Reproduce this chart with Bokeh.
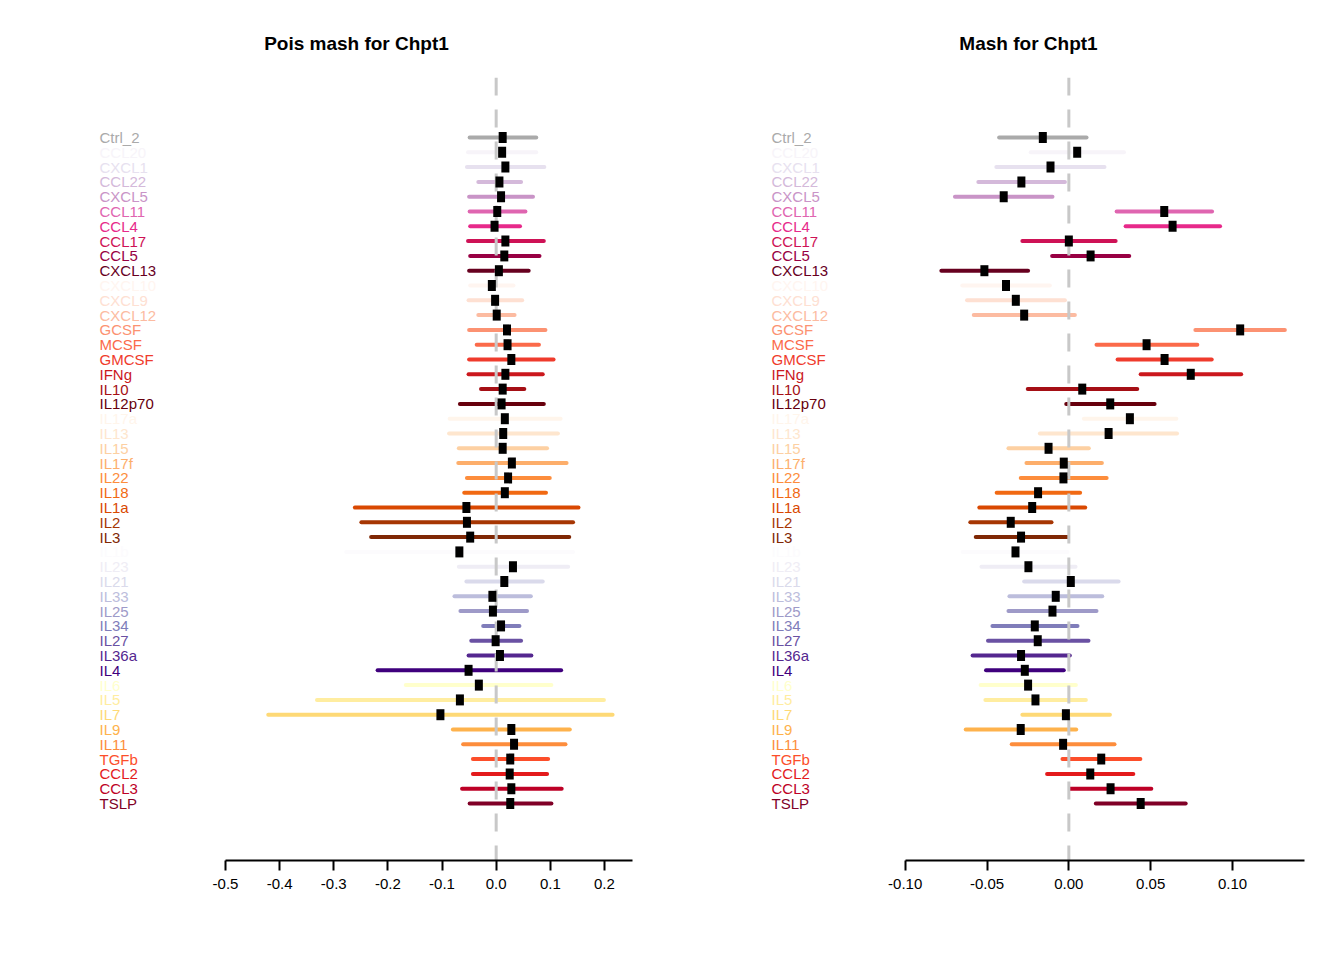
from bokeh.plotting import figure
from bokeh.models import Range1d, LinearAxis, FixedTicker, PrintfTickFormatter, ColumnDataSource
from bokeh.layouts import row
from bokeh.embed import file_html
from bokeh.resources import INLINE
from bokeh.core.properties import value

labels = ["Ctrl_2", "CCL20", "CXCL1", "CCL22", "CXCL5", "CCL11", "CCL4", "CCL17", "CCL5", "CXCL13",
          "CXCL10", "CXCL9", "CXCL12", "GCSF", "MCSF", "GMCSF", "IFNg", "IL10", "IL12p70",
          "IL17a", "IL13", "IL15", "IL17f", "IL22", "IL18", "IL1a", "IL2", "IL3",
          "IL1b", "IL23", "IL21", "IL33", "IL25", "IL34", "IL27", "IL36a", "IL4",
          "IL6", "IL5", "IL7", "IL9", "IL11", "TGFb", "CCL2", "CCL3", "TSLP"]

# Pois mash for Chpt1
pois_est = [0.012, 0.011, 0.017, 0.006, 0.009, 0.002, -0.003, 0.017, 0.015, 0.005,
            -0.008, -0.002, 0.001, 0.020, 0.021, 0.028, 0.017, 0.012, 0.010,
            0.016, 0.013, 0.012, 0.029, 0.022, 0.016, -0.055, -0.054, -0.048,
            -0.068, 0.031, 0.015, -0.007, -0.006, 0.009, -0.001, 0.007, -0.051,
            -0.032, -0.067, -0.103, 0.028, 0.033, 0.026, 0.025, 0.028, 0.026]
pois_lo = [-0.049, -0.052, -0.054, -0.033, -0.050, -0.049, -0.048, -0.052, -0.048, -0.050,
           -0.048, -0.051, -0.033, -0.050, -0.036, -0.050, -0.051, -0.028, -0.067,
           -0.086, -0.087, -0.069, -0.070, -0.054, -0.059, -0.261, -0.249, -0.231,
           -0.277, -0.069, -0.055, -0.077, -0.066, -0.024, -0.046, -0.051, -0.219,
           -0.167, -0.331, -0.421, -0.080, -0.061, -0.043, -0.043, -0.063, -0.049]
pois_hi = [0.074, 0.074, 0.089, 0.046, 0.068, 0.054, 0.044, 0.088, 0.080, 0.060,
           0.032, 0.048, 0.034, 0.091, 0.079, 0.106, 0.086, 0.052, 0.088,
           0.119, 0.114, 0.094, 0.130, 0.099, 0.092, 0.152, 0.142, 0.135,
           0.142, 0.133, 0.086, 0.064, 0.057, 0.043, 0.046, 0.065, 0.120,
           0.102, 0.199, 0.215, 0.136, 0.128, 0.096, 0.094, 0.121, 0.102]

# Mash for Chpt1
mash_est = [-0.0159, 0.0051, -0.0112, -0.0290, -0.0398, 0.0583, 0.0634, 0.0000, 0.0133, -0.0516,
            -0.0384, -0.0324, -0.0273, 0.1047, 0.0475, 0.0585, 0.0745, 0.0082, 0.0253,
            0.0373, 0.0243, -0.0124, -0.0031, -0.0033, -0.0188, -0.0224, -0.0355, -0.0292,
            -0.0326, -0.0247, 0.0012, -0.0080, -0.0100, -0.0208, -0.0190, -0.0292, -0.0269,
            -0.0249, -0.0204, -0.0018, -0.0294, -0.0035, 0.0198, 0.0131, 0.0255, 0.0439]
mash_lo = [-0.0426, -0.0233, -0.0443, -0.0553, -0.0696, 0.0292, 0.0347, -0.0284, -0.0102, -0.0779,
           -0.0651, -0.0622, -0.0581, 0.0773, 0.0169, 0.0298, 0.0439, -0.0251, -0.0016,
           0.0092, -0.0177, -0.0369, -0.0259, -0.0294, -0.0441, -0.0547, -0.0602, -0.0569,
           -0.0649, -0.0534, -0.0273, -0.0363, -0.0369, -0.0467, -0.0494, -0.0588, -0.0506,
           -0.0539, -0.0510, -0.0284, -0.0630, -0.0349, -0.0039, -0.0133, 0.0008, 0.0165]
mash_hi = [0.0108, 0.0337, 0.0218, -0.0024, -0.0100, 0.0875, 0.0924, 0.0286, 0.0369, -0.0249,
           -0.0116, -0.0024, 0.0037, 0.1320, 0.0785, 0.0873, 0.1053, 0.0418, 0.0524,
           0.0657, 0.0661, 0.0122, 0.0202, 0.0231, 0.0069, 0.0100, -0.0106, -0.0008,
           -0.0008, 0.0041, 0.0304, 0.0204, 0.0169, 0.0053, 0.0120, 0.0006, -0.0031,
           0.0043, 0.0104, 0.0251, 0.0045, 0.0279, 0.0437, 0.0394, 0.0504, 0.0714]

pois_ticks = [-0.5, -0.4, -0.3, -0.2, -0.1, 0.0, 0.1, 0.2]
mash_ticks = [-0.10, -0.05, 0.00, 0.05, 0.10]

# palettes per group
ctrl = ["#aaaaaa"]
purd = ["#f7f4f9", "#e7e1ef", "#d4b9da", "#c994c7", "#df65b0", "#e7298a", "#ce1256", "#980043", "#67001f"]
reds = ["#fff5f0", "#fee0d2", "#fcbba1", "#fc9272", "#fb6a4a", "#ef3b2c", "#cb181d", "#a50f15", "#67000d"]
oranges = ["#fff5eb", "#fee6ce", "#fdd0a2", "#fdae6b", "#fd8d3c", "#f16913", "#d94801", "#a63603", "#7f2704"]
purples = ["#fcfbfd", "#efedf5", "#dadaeb", "#bcbddc", "#9e9ac8", "#807dba", "#6a51a3", "#54278f", "#3f007d"]
ylorrd = ["#ffffcc", "#ffeda0", "#fed976", "#feb24c", "#fd8d3c", "#fc4e2a", "#e31a1c", "#bd0026", "#800026"]
colors = ctrl + purd + reds + oranges + purples + ylorrd

FONT = "Liberation Sans"
Y_TOP, Y_BOT = -4.054, 48.85


def panel(title, est, lo, hi, xr, ticks, fmt):
    src = ColumnDataSource(dict(y=list(range(len(labels))), est=est, lo=lo, hi=hi,
                                lab=labels, col=colors))
    p = figure(width=672, height=960, output_backend="svg", toolbar_location=None,
               x_range=Range1d(*xr), y_range=Range1d(Y_BOT, Y_TOP),
               x_axis_type=None, y_axis_type=None, title=title,
               min_border_left=80, min_border_right=40, min_border_top=77, min_border_bottom=100)
    p.outline_line_color = None
    p.background_fill_color = "white"
    p.border_fill_color = "white"
    p.title.align = "center"
    p.title.text_font = FONT
    p.title.text_font_size = "19px"
    p.title.text_font_style = "bold"
    p.title.text_color = "black"
    p.title.standoff = 48

    p.segment(x0="lo", y0="y", x1="hi", y1="y", source=src, line_color="col",
              line_width=4, line_cap="round")
    p.segment(x0=0, y0=Y_TOP, x1=0, y1=Y_BOT, line_color="#c8c8c8", line_width=3,
              line_dash="18 14")
    p.rect(x="est", y="y", width=8, height=11, width_units="screen", height_units="screen",
           source=src, fill_color="black", line_color=None)
    p.text(x=xr[0], y="y", text="lab", source=src, x_offset=19, text_color="col",
           text_font=value(FONT), text_font_size="15px", text_baseline="middle",
           text_align="left")

    ax = LinearAxis(ticker=FixedTicker(ticks=ticks, minor_ticks=[]),
                    formatter=PrintfTickFormatter(format=fmt),
                    bounds=(ticks[0], xr[1]))
    ax.axis_line_width = 2
    ax.major_tick_line_width = 2
    ax.major_tick_out = 10
    ax.major_tick_in = 0
    ax.minor_tick_out = 0
    ax.minor_tick_in = 0
    ax.major_label_text_font = FONT
    ax.major_label_text_font_size = "15px"
    ax.major_label_text_color = "black"
    ax.major_label_standoff = 8
    p.add_layout(ax, "below")
    return p


p1 = panel("Pois mash for Chpt1", pois_est, pois_lo, pois_hi, (-0.7678, 0.2518), pois_ticks, "%.1f")
p2 = panel("Mash for Chpt1", mash_est, mash_lo, mash_hi, (-0.1933, 0.1440), mash_ticks, "%.2f")

layout = row(p1, p2)
open("out.html", "w").write(file_html(layout, INLINE))
